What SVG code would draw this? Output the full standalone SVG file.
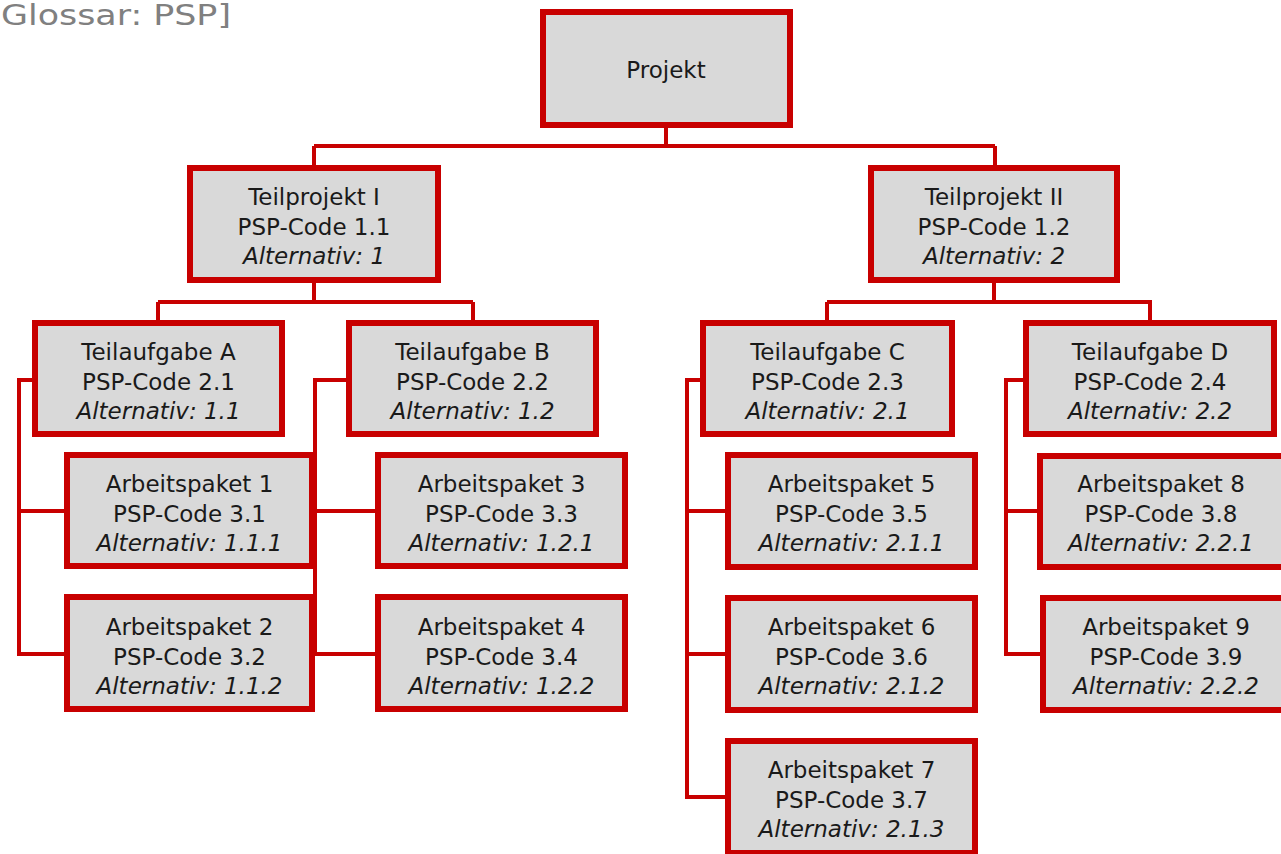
<svg xmlns="http://www.w3.org/2000/svg" width="1281" height="854" viewBox="0 0 1281 854">
<style>
.box{fill:#d9d9d9;stroke:#c80000;stroke-width:6}
.t{font-family:"DejaVu Sans",Verdana,sans-serif;font-size:23px;fill:#1a1a1a;text-anchor:middle}
.i{font-style:italic}
.c{fill:none;stroke:#c80000;stroke-width:4}
.title{font-family:"DejaVu Sans",Verdana,sans-serif;font-size:29px;fill:#808080}
</style>
<rect width="1281" height="854" fill="#ffffff"/>
<text class="title" x="1" y="25" textLength="230" lengthAdjust="spacingAndGlyphs">Glossar: PSP]</text>
<g id="connectors">
<path class="c" d="M666,128 V146 M314,146 H995 M314,146 V165 M995,146 V165"/>
<path class="c" d="M314,283 V302 M158,302 H473 M158,302 V320 M473,302 V320"/>
<path class="c" d="M994,283 V302 M827,302 H1150 V320 M827,302 V320"/>
<path class="c" d="M32,380 H19 V654 H64 M19,511 H64"/>
<path class="c" d="M346,380 H315 V654 H375 M315,511 H375"/>
<path class="c" d="M700,380 H687 V797 H725 M687,511 H725 M687,654 H725"/>
<path class="c" d="M1023,380 H1006 V654 H1040 M1006,511 H1037"/>
</g>
<g id="projekt"><rect class="box" x="543" y="12" width="247" height="113"/><text class="t" x="666" y="78">Projekt</text></g>
<g id="tp1"><rect class="box" x="190" y="168" width="248" height="112"/><text class="t" x="314" y="205">Teilprojekt I</text><text class="t" x="314" y="235">PSP-Code 1.1</text><text class="t i" x="314" y="264">Alternativ: 1</text></g>
<g id="tp2"><rect class="box" x="871" y="168" width="246" height="112"/><text class="t" x="994" y="205">Teilprojekt II</text><text class="t" x="994" y="235">PSP-Code 1.2</text><text class="t i" x="994" y="264">Alternativ: 2</text></g>
<g id="taA"><rect class="box" x="35" y="323" width="247" height="111"/><text class="t" x="158.5" y="360">Teilaufgabe A</text><text class="t" x="158.5" y="390">PSP-Code 2.1</text><text class="t i" x="158.5" y="419">Alternativ: 1.1</text></g>
<g id="taB"><rect class="box" x="349" y="323" width="247" height="111"/><text class="t" x="472.5" y="360">Teilaufgabe B</text><text class="t" x="472.5" y="390">PSP-Code 2.2</text><text class="t i" x="472.5" y="419">Alternativ: 1.2</text></g>
<g id="taC"><rect class="box" x="703" y="323" width="249" height="111"/><text class="t" x="827.5" y="360">Teilaufgabe C</text><text class="t" x="827.5" y="390">PSP-Code 2.3</text><text class="t i" x="827.5" y="419">Alternativ: 2.1</text></g>
<g id="taD"><rect class="box" x="1026" y="323" width="248" height="111"/><text class="t" x="1150" y="360">Teilaufgabe D</text><text class="t" x="1150" y="390">PSP-Code 2.4</text><text class="t i" x="1150" y="419">Alternativ: 2.2</text></g>
<g id="ap1"><rect class="box" x="67" y="455" width="245" height="111"/><text class="t" x="189.5" y="492">Arbeitspaket 1</text><text class="t" x="189.5" y="522">PSP-Code 3.1</text><text class="t i" x="189.5" y="551">Alternativ: 1.1.1</text></g>
<g id="ap2"><rect class="box" x="67" y="597" width="245" height="112"/><text class="t" x="189.5" y="635">Arbeitspaket 2</text><text class="t" x="189.5" y="665">PSP-Code 3.2</text><text class="t i" x="189.5" y="694">Alternativ: 1.1.2</text></g>
<g id="ap3"><rect class="box" x="378" y="455" width="247" height="111"/><text class="t" x="501.5" y="492">Arbeitspaket 3</text><text class="t" x="501.5" y="522">PSP-Code 3.3</text><text class="t i" x="501.5" y="551">Alternativ: 1.2.1</text></g>
<g id="ap4"><rect class="box" x="378" y="597" width="247" height="112"/><text class="t" x="501.5" y="635">Arbeitspaket 4</text><text class="t" x="501.5" y="665">PSP-Code 3.4</text><text class="t i" x="501.5" y="694">Alternativ: 1.2.2</text></g>
<g id="ap5"><rect class="box" x="728" y="455" width="247" height="112"/><text class="t" x="851.5" y="492">Arbeitspaket 5</text><text class="t" x="851.5" y="522">PSP-Code 3.5</text><text class="t i" x="851.5" y="551">Alternativ: 2.1.1</text></g>
<g id="ap6"><rect class="box" x="728" y="598" width="247" height="112"/><text class="t" x="851.5" y="635">Arbeitspaket 6</text><text class="t" x="851.5" y="665">PSP-Code 3.6</text><text class="t i" x="851.5" y="694">Alternativ: 2.1.2</text></g>
<g id="ap7"><rect class="box" x="728" y="741" width="247" height="112"/><text class="t" x="851.5" y="778">Arbeitspaket 7</text><text class="t" x="851.5" y="808">PSP-Code 3.7</text><text class="t i" x="851.5" y="837">Alternativ: 2.1.3</text></g>
<g id="ap8"><rect class="box" x="1040" y="456" width="250" height="111"/><text class="t" x="1161" y="492">Arbeitspaket 8</text><text class="t" x="1161" y="522">PSP-Code 3.8</text><text class="t i" x="1161" y="551">Alternativ: 2.2.1</text></g>
<g id="ap9"><rect class="box" x="1043" y="598" width="250" height="112"/><text class="t" x="1166" y="635">Arbeitspaket 9</text><text class="t" x="1166" y="665">PSP-Code 3.9</text><text class="t i" x="1166" y="694">Alternativ: 2.2.2</text></g>
</svg>
